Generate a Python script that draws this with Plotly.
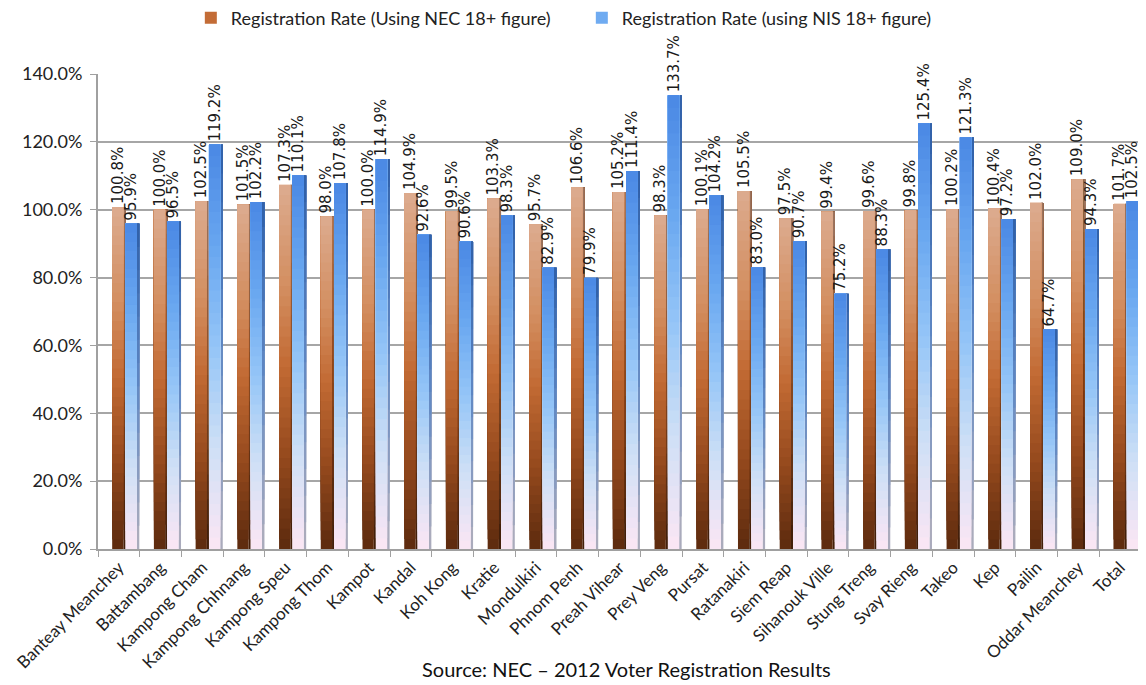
import plotly.graph_objects as go

# ---------------- data ----------------
provinces = ["Banteay Meanchey", "Battambang", "Kampong Cham", "Kampong Chhnang",
             "Kampong Speu", "Kampong Thom", "Kampot", "Kandal", "Koh Kong", "Kratie",
             "Mondulkiri", "Phnom Penh", "Preah Vihear", "Prey Veng", "Pursat",
             "Ratanakiri", "Siem Reap", "Sihanouk Ville", "Stung Treng", "Svay Rieng",
             "Takeo", "Kep", "Pailin", "Oddar Meanchey", "Total"]
nec_rate = [100.8, 100.0, 102.5, 101.5, 107.3, 98.0, 100.0, 104.9, 99.5, 103.3,
            95.7, 106.6, 105.2, 98.3, 100.1, 105.5, 97.5, 99.4, 99.6, 99.8,
            100.2, 100.4, 102.0, 109.0, 101.7]
nis_rate = [95.9, 96.5, 119.2, 102.2, 110.1, 107.8, 114.9, 92.6, 90.6, 98.3,
            82.9, 79.9, 111.4, 133.7, 104.2, 83.0, 90.7, 75.2, 88.3, 125.4,
            121.3, 97.2, 64.7, 94.3, 102.5]
series_names = ["Registration Rate (Using NEC 18+ figure)",
                "Registration Rate (using NIS 18+ figure)"]
y_ticks = [0, 20, 40, 60, 80, 100, 120, 140]
source_text = "Source: NEC \u2013 2012 Voter Registration Results"

# ---------------- styles ----------------
NEC_FACE = [(0, "#5C2A0E"), (0.25, "#94491D"), (0.5, "#C26A33"), (0.72, "#D38E60"), (1, "#DCAB8F")]
NEC_SIDE = [(0, "#3E1C08"), (0.5, "#8A4A22"), (1, "#9C7560")]
NIS_FACE = [(0, "#FBE6F4"), (0.25, "#CFE0F6"), (0.5, "#94C5F7"), (0.75, "#68A6F0"), (1, "#4A88E4")]
NIS_SIDE = [(0, "#B0AEBB"), (0.5, "#5F88C4"), (1, "#2F5FA8")]


def hex2rgb(h):
    h = h.lstrip("#")
    return tuple(int(h[i:i + 2], 16) for i in (0, 2, 4))


def interp(stops, t):
    for (t0, c0), (t1, c1) in zip(stops[:-1], stops[1:]):
        if t <= t1:
            f = (t - t0) / (t1 - t0) if t1 > t0 else 0
            a, b = hex2rgb(c0), hex2rgb(c1)
            return "rgb(%d,%d,%d)" % tuple(round(a[i] + (b[i] - a[i]) * f) for i in range(3))
    return stops[-1][1]


fig = go.Figure()


def add_gradient_bar(values, stops, n, offset, width, name=None, legend_k=None,
                     label=False):
    for k in range(n):
        frac = k / n
        base = [v * frac for v in values]
        height = [v * (1 - frac) for v in values]
        last = label and k == n - 1
        fig.add_trace(go.Bar(
            x=provinces, y=height, base=base,
            offset=offset, width=width,
            marker=dict(color=interp(stops, (k + 0.5) / n), line=dict(width=0)),
            name=name if name else "",
            showlegend=(legend_k is not None and k == legend_k),
            hoverinfo="skip",
            text=[f"{v:.1f}%" for v in values] if last else None,
            textposition="outside" if last else None,
            textangle=-90 if last else None,
            textfont=dict(family="DejaVu Sans", size=15, color="#1A1A1A"),
            constraintext="none",
            cliponaxis=False,
        ))


N = 36
# NEC series
add_gradient_bar(nec_rate, NEC_SIDE, 14, 0.11, 0.05)
add_gradient_bar(nec_rate, NEC_FACE, N, -0.16, 0.27, name=series_names[0],
                 legend_k=N // 2, label=True)
# NIS series
add_gradient_bar(nis_rate, NIS_SIDE, 14, 0.43, 0.06)
add_gradient_bar(nis_rate, NIS_FACE, N, 0.16, 0.27, name=series_names[1],
                 legend_k=int(N * 0.7), label=True)

fig.add_annotation(text=source_text, xref="paper", yref="paper",
                   x=0.507, y=-0.282, xanchor="center", yanchor="bottom",
                   showarrow=False,
                   font=dict(family="Lato", size=20, color="#111111"))

fig.update_layout(
    width=1138, height=677,
    margin=dict(l=90, r=5, t=66, b=136, autoexpand=False),
    paper_bgcolor="white", plot_bgcolor="white",
    barmode="overlay",
    showlegend=True,
    legend=dict(orientation="h", x=0.089, y=1.157, xanchor="left", yanchor="top",
                font=dict(family="Lato", size=18, color="#222222"),
                entrywidth=346, entrywidthmode="pixels",
                bgcolor="rgba(0,0,0,0)"),
    xaxis=dict(
        type="category", range=[-0.5, len(provinces) - 0.5],
        tickangle=-45, tickfont=dict(family="Lato", size=17, color="#222222"),
        showline=True, linecolor="#A0A0A0", linewidth=2,
        ticks="outside", tickson="boundaries", ticklen=6, tickcolor="#A0A0A0",
        showgrid=False, automargin=False,
    ),
    yaxis=dict(
        range=[0, 140], tickvals=y_ticks, ticktext=[f"{t:.1f}%" for t in y_ticks],
        tickfont=dict(family="Lato", size=18, color="#222222"),
        showline=True, linecolor="#A0A0A0", linewidth=2,
        ticks="outside", ticklen=6, tickcolor="#A0A0A0",
        ticklabelstandoff=4,
        showgrid=True, gridcolor="#A6A6A6", gridwidth=1.5,
        zeroline=False, automargin=False,
    ),
)

fig.write_html("out.html")
